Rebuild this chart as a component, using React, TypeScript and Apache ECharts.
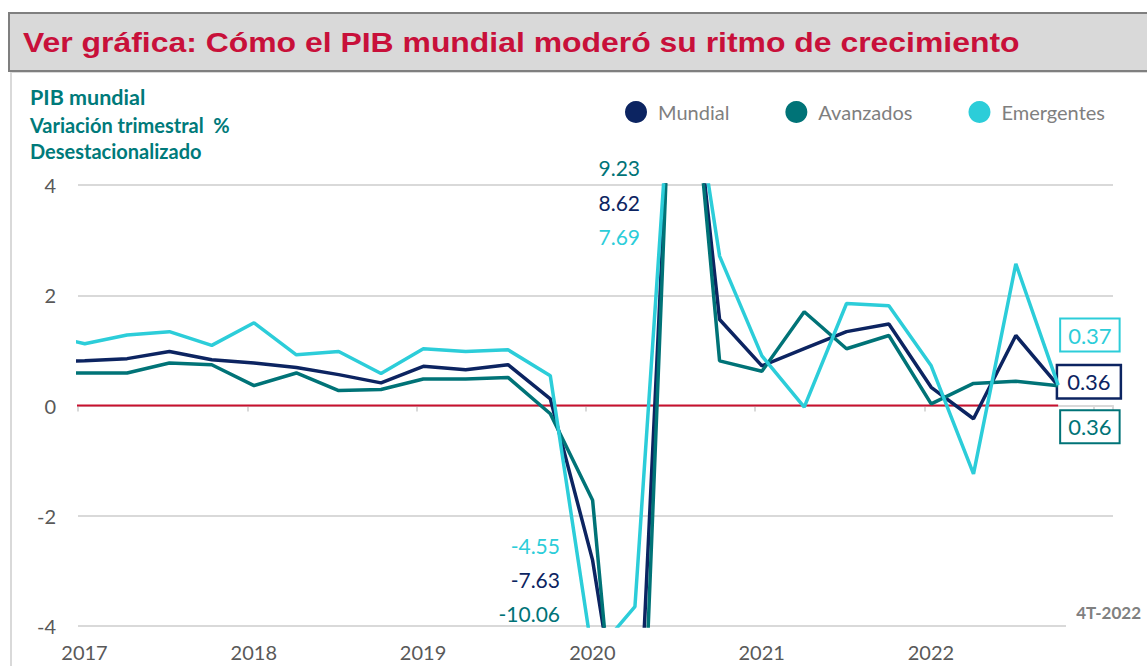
import { useEffect, useRef } from 'react';
import * as echarts from 'echarts';

// Quarter categories (quarter-year), first one only feeds the clipped stub at the left edge
const quarters = [
  '4T-2016',
  '1T-2017', '2T-2017', '3T-2017', '4T-2017',
  '1T-2018', '2T-2018', '3T-2018', '4T-2018',
  '1T-2019', '2T-2019', '3T-2019', '4T-2019',
  '1T-2020', '2T-2020', '3T-2020', '4T-2020',
  '1T-2021', '2T-2021', '3T-2021', '4T-2021',
  '1T-2022', '2T-2022', '3T-2022', '4T-2022',
];

const mundial = [
  0.80,
  0.81, 0.85, 0.98, 0.83,
  0.77, 0.69, 0.56, 0.41,
  0.71, 0.65, 0.74, 0.12,
  -2.81, -7.63, 8.62, 1.56,
  0.72, 1.03, 1.34, 1.48,
  0.33, -0.24, 1.27, 0.36,
];

const avanzados = [
  0.59,
  0.59, 0.59, 0.77, 0.74,
  0.36, 0.59, 0.27, 0.29,
  0.48, 0.48, 0.51, -0.15,
  -1.72, -10.06, 9.23, 0.81,
  0.62, 1.70, 1.03, 1.27,
  0.03, 0.40, 0.44, 0.36,
];

const emergentes = [
  1.29,
  1.12, 1.28, 1.34, 1.09,
  1.50, 0.92, 0.98, 0.58,
  1.03, 0.98, 1.01, 0.54,
  -4.55, -3.65, 7.69, 2.71,
  0.90, -0.03, 1.85, 1.81,
  0.72, -1.24, 2.57, 0.37,
];

const yearLabels = ['2017', '2018', '2019', '2020', '2021', '2022'];
const seriesNames = ['Mundial', 'Avanzados', 'Emergentes'];
const titleText = 'Ver gráfica: Cómo el PIB mundial moderó su ritmo de crecimiento';
const subtitleLines = ['PIB mundial', 'Variación trimestral  %', 'Desestacionalizado'];
const periodNote = '4T-2022';

const COLORS = {
  mundial: '#0c2461',
  avanzados: '#007377',
  emergentes: '#2ccdd9',
  zero: '#c8102e',
  title: '#c8103a',
  subtitle: '#007a7a',
  legend: '#7f7f7f',
  axisText: '#595959',
  grid: '#d9d9d9',
};

// position on a decimal-year axis: quarter start plus half a month
function toX(q: string): number {
  const n = parseInt(q.charAt(0), 10);
  const y = parseInt(q.slice(3), 10);
  return y + (n - 1) / 4 + 0.04;
}

export default function App() {
  const ref = useRef<HTMLDivElement>(null);

  useEffect(() => {
    document.body.style.margin = '0';
    if (!ref.current) return;
    const chart = echarts.init(ref.current, null, { renderer: 'svg' });

    const iQ1 = quarters.indexOf('1T-2020');
    const iQ2 = quarters.indexOf('2T-2020');
    const iQ3 = quarters.indexOf('3T-2020');
    const fmt = (v: number) => v.toFixed(2);

    const mkSeries = (
      name: string,
      vals: number[],
      color: string,
      dy: number,
      dist: number,
      bw: number,
      pad: number[],
      z: number
    ) => ({
      name,
      type: 'line',
      data: quarters.map((q, i) => [toX(q), vals[i]]),
      symbol: 'none',
      showSymbol: false,
      clip: true,
      z,
      lineStyle: { width: 3.5, color },
      itemStyle: { color },
      emphasis: { disabled: true },
      endLabel: {
        show: true,
        formatter: (p: any) => fmt(p.value[1]),
        color,
        fontFamily: 'Lato',
        fontSize: 22,
        backgroundColor: '#ffffff',
        borderColor: color,
        borderWidth: bw,
        padding: pad,
        distance: dist,
        offset: [0, dy],
      },
    });

    const annot = (text: string, x: number, y: number, color: string) => ({
      type: 'text',
      x,
      y,
      z: 50,
      style: {
        text,
        fill: color,
        font: '21px Lato',
        align: 'right',
        verticalAlign: 'middle',
      },
    });

    const option: any = {
      animation: false,
      grid: { left: 78, right: 34, top: 185, bottom: 40, containLabel: false },
      legend: {
        data: seriesNames,
        left: 620,
        top: 96,
        icon: 'circle',
        itemWidth: 22,
        itemHeight: 22,
        itemGap: 56,
        selectedMode: false,
        textStyle: {
          fontFamily: 'Lato',
          fontSize: 20,
          color: COLORS.legend,
          padding: [0, 0, 0, 6],
        },
      },
      xAxis: {
        type: 'value',
        min: Number(yearLabels[0]),
        max: 2023.114,
        interval: 1,
        axisLine: { show: true, lineStyle: { color: COLORS.grid, width: 2 } },
        axisTick: { show: true, length: 6, lineStyle: { color: COLORS.grid, width: 2 } },
        splitLine: { show: false },
        axisLabel: {
          margin: 16,
          fontFamily: 'Lato',
          fontSize: 20,
          lineHeight: 20,
          padding: [0, 0, 0, 13],
          color: COLORS.axisText,
          formatter: (v: number) => {
            const r = Math.round(v);
            if (Math.abs(v - r) > 1e-6) return '';
            return yearLabels.indexOf(String(r)) >= 0 ? String(r) : '';
          },
        },
      },
      yAxis: {
        type: 'value',
        min: -4,
        max: 4,
        interval: 2,
        axisLine: { show: false },
        axisTick: { show: false },
        splitLine: {
          show: true,
          lineStyle: {
            color: [COLORS.grid, COLORS.grid, 'rgba(0,0,0,0)', COLORS.grid, COLORS.grid],
            width: 2,
          },
        },
        axisLabel: {
          margin: 22,
          fontFamily: 'Lato',
          fontSize: 20,
          color: COLORS.axisText,
        },
      },
      series: [
        {
          name: 'cero',
          type: 'line',
          data: quarters.map((q) => [toX(q), 0]),
          symbol: 'none',
          showSymbol: false,
          silent: true,
          z: 1,
          lineStyle: { width: 2, color: COLORS.zero },
          itemStyle: { color: COLORS.zero },
        },
        mkSeries(seriesNames[0], mundial, COLORS.mundial, -4, 0, 2.5, [5, 9, 4, 9], 3),
        mkSeries(seriesNames[1], avanzados, COLORS.avanzados, 41, 3, 2, [5, 7, 4, 7], 4),
        mkSeries(seriesNames[2], emergentes, COLORS.emergentes, -50, 3, 2, [5, 7, 4, 7], 5),
      ],
      graphic: [
        {
          type: 'rect',
          z: 0,
          shape: { x: 11, y: 72, width: 1160, height: 640 },
          style: { fill: 'none', stroke: COLORS.grid, lineWidth: 2 },
        },
        {
          type: 'rect',
          z: 1,
          shape: { x: 9, y: 13, width: 1160, height: 58 },
          style: { fill: '#d9d9d9', stroke: '#7f7f7f', lineWidth: 2 },
        },
        {
          type: 'text',
          x: 23,
          y: 42,
          z: 2,
          scaleX: 1.14,
          style: {
            text: titleText,
            fill: COLORS.title,
            font: 'bold 28px "Liberation Sans", Arial, sans-serif',
            verticalAlign: 'middle',
          },
        },
        {
          type: 'text',
          x: 30,
          y: 97,
          style: { text: subtitleLines[0], fill: COLORS.subtitle, font: 'bold 21.5px Lato', verticalAlign: 'middle' },
        },
        {
          type: 'text',
          x: 30,
          y: 125,
          style: { text: subtitleLines[1], fill: COLORS.subtitle, font: 'bold 20px Lato', verticalAlign: 'middle' },
        },
        {
          type: 'text',
          x: 30,
          y: 151,
          style: { text: subtitleLines[2], fill: COLORS.subtitle, font: 'bold 20px Lato', verticalAlign: 'middle' },
        },
        annot(fmt(avanzados[iQ3]), 640, 167, COLORS.avanzados),
        annot(fmt(mundial[iQ3]), 640, 202, COLORS.mundial),
        annot(fmt(emergentes[iQ3]), 640, 236, COLORS.emergentes),
        annot(fmt(emergentes[iQ1]), 560, 545, COLORS.emergentes),
        annot(fmt(mundial[iQ2]), 560, 579, COLORS.mundial),
        annot(fmt(avanzados[iQ2]), 560, 613, COLORS.avanzados),
        {
          type: 'rect',
          z: 60,
          shape: { x: 1066, y: 598, width: 90, height: 36 },
          style: { fill: '#ffffff' },
        },
        {
          type: 'text',
          x: 1141,
          y: 612,
          z: 61,
          style: {
            text: periodNote,
            fill: '#808080',
            font: 'bold 17px Lato',
            align: 'right',
            verticalAlign: 'middle',
          },
        },
      ],
    };

    chart.setOption(option);
    return () => chart.dispose();
  }, []);

  return <div ref={ref} style={{ width: 1147, height: 666 }} />;
}
